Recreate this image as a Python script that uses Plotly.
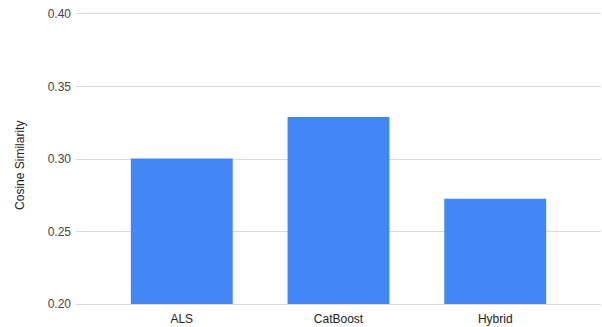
import plotly.graph_objects as go

categories = ["ALS", "CatBoost", "Hybrid"]
values = [0.3003, 0.329, 0.2725]
y_ticks = [0.20, 0.25, 0.30, 0.35, 0.40]
y_tick_labels = ["0.20", "0.25", "0.30", "0.35", "0.40"]
y_title = "Cosine Similarity"

fig = go.Figure(go.Bar(
    x=list(range(len(categories))),
    y=values,
    width=0.65,
    marker=dict(color="#4285F4", line=dict(width=0)),
))

fig.update_layout(
    width=602, height=327,
    margin=dict(l=76, r=1, t=14, b=23),
    paper_bgcolor="white", plot_bgcolor="white",
    font=dict(family="Liberation Sans, Arial, sans-serif", size=12, color="#444444"),
    showlegend=False,
    xaxis=dict(
        tickmode="array", tickvals=list(range(len(categories))), ticktext=categories,
        range=[-0.675, 2.675], showgrid=False, zeroline=False,
        showline=True, linecolor="#d9d9d9", linewidth=1, mirror=True,
        ticks="", ticklabelstandoff=4, tickfont=dict(size=12, color="#222222"),
    ),
    yaxis=dict(
        range=[0.2, 0.4], tickmode="array", tickvals=y_ticks, ticktext=y_tick_labels,
        showgrid=True, gridcolor="#d9d9d9", gridwidth=1, zeroline=False, showline=False,
        ticks="", ticklabelstandoff=4, tickfont=dict(size=12, color="#444444"),
    ),
    annotations=[dict(
        text=y_title, textangle=-90, showarrow=False,
        xref="paper", yref="paper", x=0, y=0.476, xanchor="center", yanchor="middle",
        xshift=-56, font=dict(size=12, color="#222222"),
    )],
)

fig.write_html("out.html")
